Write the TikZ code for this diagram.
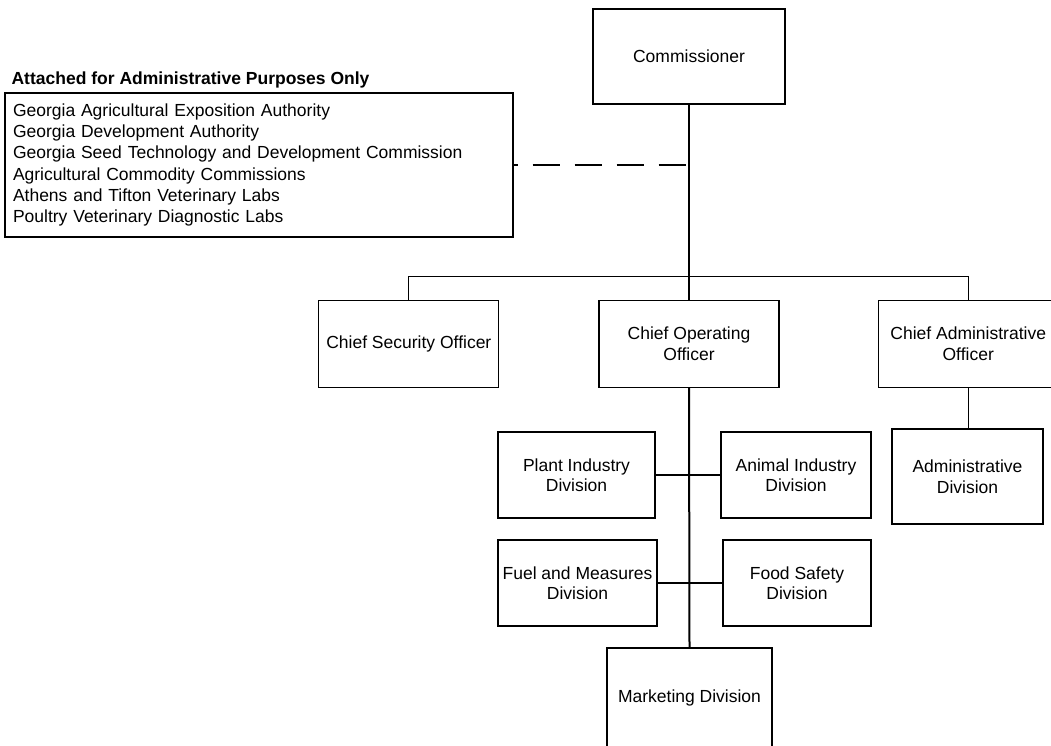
\documentclass[tikz,border=0pt]{standalone}
\usepackage{fontspec}
\setmainfont{Liberation Sans}
\usepackage{tikz}
\usetikzlibrary{positioning}
\tikzstyle{unit} = [rectangle, minimum width=180pt, minimum height=87pt, inner sep=2pt, text centered, align=center, draw=black, line width=1.2pt, font=\fontsize{17.5}{20.5}\selectfont]
\tikzstyle{listbox} = [rectangle, minimum width=508pt, minimum height=144pt, inner sep=8pt, text width=492pt, align=left, draw=black, line width=1.2pt, font=\fontsize{17.5}{21.2}\selectfont]
\tikzstyle{heading} = [inner sep=0pt, font=\fontsize{17.5}{21.2}\selectfont\bfseries]
\tikzstyle{line} = [line width=1.2pt]
\tikzstyle{trunk} = [line width=2pt]
\tikzstyle{dashline} = [line width=1.2pt, dash pattern=on 27pt off 15pt, dash phase=23pt]

\begin{document}
\begin{tikzpicture}[x=1pt, y=-1pt]
	\useasboundingbox (0,0) rectangle (1051,746);
	\clip (0,0) rectangle (1051,746);

	\node (comm) [unit, minimum width=192pt, minimum height=95pt] at (689,56.5) {\raisebox{-5pt}{Commissioner}};
	\node (coo) [unit, below=195pt of comm] {Chief Operating\\Officer};
	\node (cso) [unit, left=99pt of coo] {Chief Security Officer};
	\node (cao) [unit, right=98pt of coo] {Chief Administrative\\Officer};
	\coordinate (bus) at ([yshift=23pt]coo.north);

	\node (attached) [listbox] at (259,165) {Georgia Agricultural Exposition Authority\\
		Georgia Development Authority\\
		Georgia Seed Technology and Development Commission\\
		Agricultural Commodity Commissions\\
		Athens and Tifton Veterinary Labs\\
		Poultry Veterinary Diagnostic Labs};
	\node (hdr) [heading, anchor=base west, xshift=7pt, yshift=8pt] at (attached.north west) {Attached for Administrative Purposes Only};

	\node (plant) [unit, minimum width=157pt, minimum height=86pt] at (576.5,475) {Plant Industry\\Division};
	\node (animal) [unit, minimum width=150pt, minimum height=86pt] at (796,475) {Animal Industry\\Division};
	\node (fuel) [unit, minimum width=159pt, minimum height=86pt] at (577.5,583) {Fuel and Measures\\Division};
	\node (food) [unit, minimum width=148pt, minimum height=86pt] at (797,583) {Food Safety\\Division};
	\node (admin) [unit, minimum width=151pt, minimum height=95pt] at (967.5,476.5) {Administrative\\Division};
	\node (mkt) [unit, minimum width=165pt, minimum height=100pt] at (689.5,698) {Marketing Division};

	\draw [line] (comm.south) -- (bus);
	\draw [line] (cso.north) |- (bus) -| (cao.north);
	\draw [line] (bus) -- (coo.north);
	\draw [dashline] (attached.east) -- (attached.east -| bus);
	\draw [trunk] (coo.south) -- (mkt.north);
	\draw [line] (plant.east) -- (animal.west);
	\draw [line] (fuel.east) -- (food.west);
	\draw [line] (cao.south) -- (cao.south |- admin.north);
\end{tikzpicture}
\end{document}
